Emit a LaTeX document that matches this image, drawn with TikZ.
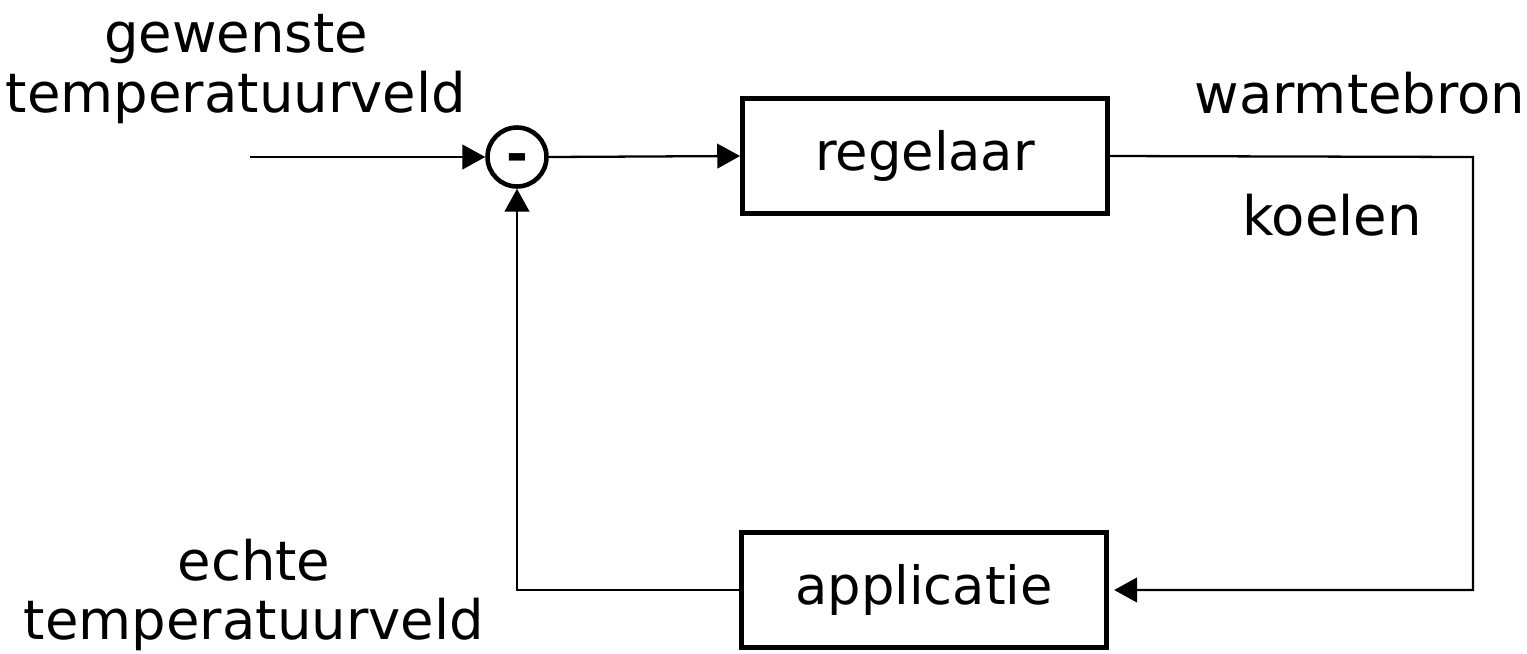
\documentclass[tikz,border=0pt]{standalone}
\usepackage{fontspec}
\setmainfont{DejaVu Sans}
\usetikzlibrary{arrows.meta,positioning}

\begin{document}
\begin{tikzpicture}[x=0.02cm, y=-0.02cm,
    blok/.style={rectangle, draw, line width=2.8pt, minimum width=7.3cm, minimum height=2.3cm,
                 font=\fontsize{30}{34}\selectfont},
    som/.style={circle, draw, line width=2.6pt, minimum size=1.18cm, inner sep=0pt,
                font=\fontsize{30}{34}\selectfont\bfseries},
    tekst/.style={align=center, font=\fontsize{31}{34}\selectfont},
    lijn/.style={line width=1.3pt},
    pijl/.style={lijn, -{Triangle[length=13pt, width=14pt]}},
]
\useasboundingbox (0,0) rectangle (1527,653);

% Blokken
\node[som] (som) at (517,157) {\raisebox{-0.3em}[0pt][0pt]{-}};
\node[blok] (regelaar) at (925,156) {regelaar};
\node[blok] (applicatie) at (924,590) {applicatie};

% Teksten
\node[tekst] (gewenst) at (236,69) {gewenste\\temperatuurveld};
\node[tekst] (echt) at (254,595) {echte\\temperatuurveld};
\node[tekst, anchor=base] (warmte) at (1360,113) {warmtebron};
\node[tekst, anchor=base] (koelen) at (1332,235) {koelen};

% Verbindingen
\coordinate (ingang) at (250,157);
\coordinate (hoek) at (1473,157);
\draw[pijl] (ingang) -- (som.west);
\draw[pijl] (som.east) -- (regelaar.west);
\draw[pijl, shorten >=3pt] (regelaar.east) -- (hoek) |- (applicatie.east);
\draw[pijl] (applicatie.west) -| (som.south);

\end{tikzpicture}
\end{document}
